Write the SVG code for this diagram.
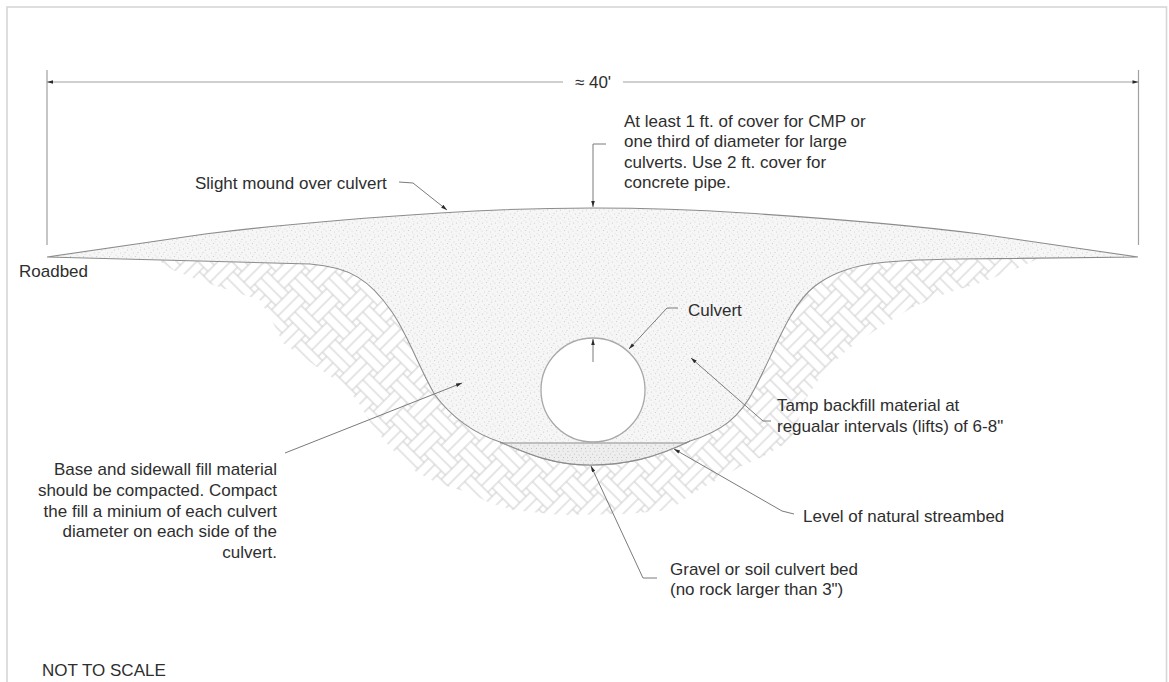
<svg xmlns="http://www.w3.org/2000/svg" width="1169" height="682" viewBox="0 0 1169 682">
  <style>
    .t { font-family: "Liberation Sans", Arial, sans-serif; font-size: 17px; fill: #2e2e2e; }
    .r { text-anchor: end; }
    .m { text-anchor: middle; }
    .ld { fill: none; stroke: #7a7a7a; stroke-width: 1; }
    .dim { fill: none; stroke: #a0a0a0; stroke-width: 1.2; }
    .edge { stroke: #8c8c8c; stroke-width: 1.1; }
    .hl { stroke: #cbcbcb; stroke-width: 1; fill: none; }
  </style>
  <defs>
    <marker id="arw" viewBox="0 0 10 6" refX="10" refY="3" markerWidth="8" markerHeight="3.6" orient="auto-start-reverse" markerUnits="userSpaceOnUse">
      <path d="M0,0 L10,3 L0,6 Z" fill="#2a2a2a"/>
    </marker>
    <!-- basket-weave earth hatch -->
    <pattern id="earth" patternUnits="userSpaceOnUse" width="48" height="48" patternTransform="rotate(45)">
      <path class="hl" d="M0,3H27M45,3H48M0,12H27M45,12H48M0,21H27M45,21H48
                        M21,27H48M0,27H3M21,36H48M0,36H3M21,45H48M0,45H3
                        M27,0V27M27,45V48M36,0V27M36,45V48M45,0V27M45,45V48
                        M3,21V48M3,0V3M12,21V48M12,0V3M21,21V48M21,0V3"/>
    </pattern>
    <!-- compacted fill stipple -->
    <pattern id="stip" patternUnits="userSpaceOnUse" width="13" height="13">
      <rect width="13" height="13" fill="#f6f6f6"/>
      <g fill="#c9c9c9">
        <circle cx="1.5" cy="2" r="0.6"/><circle cx="6" cy="1" r="0.5"/><circle cx="10.5" cy="3" r="0.6"/>
        <circle cx="3.5" cy="6" r="0.5"/><circle cx="8" cy="5.5" r="0.6"/><circle cx="12" cy="8" r="0.5"/>
        <circle cx="1" cy="10" r="0.5"/><circle cx="5.5" cy="9.5" r="0.6"/><circle cx="9.5" cy="11" r="0.5"/>
        <circle cx="4" cy="12.5" r="0.4"/><circle cx="11" cy="0.5" r="0.4"/><circle cx="7" cy="7.5" r="0.4"/>
      </g>
    </pattern>
    <pattern id="stip2" patternUnits="userSpaceOnUse" width="9" height="9">
      <rect width="9" height="9" fill="#eeeeee"/>
      <g fill="#bcbcbc">
        <circle cx="1" cy="1.5" r="0.6"/><circle cx="5" cy="1" r="0.5"/><circle cx="7.5" cy="4" r="0.6"/>
        <circle cx="3" cy="5" r="0.6"/><circle cx="0.5" cy="7.5" r="0.5"/><circle cx="5.5" cy="7.5" r="0.6"/>
      </g>
    </pattern>
    <clipPath id="earthClip">
      <polygon points="155,258 1040,258 1013,270 980,283 947,293 913,307 880,327 847,350 823,373 805,400 792,440 760,458 740,467 717,480 693,493 670,510 627,514 560,515 513,510 490,503 470,493 437,483 413,470 390,447 373,427 357,400 340,383 307,360 283,343 273,323 260,300 207,283 173,270"/>
    </clipPath>
  </defs>

  <rect width="1169" height="682" fill="#ffffff"/>
  <rect x="7" y="7" width="1159.5" height="700" fill="none" stroke="#d6d6d6" stroke-width="1.6"/>

  <!-- natural ground -->
  <g id="ground">
    <rect x="140" y="250" width="920" height="280" fill="url(#earth)" clip-path="url(#earthClip)"/>
  </g>

  <!-- roadbed, mound and trench backfill -->
  <g id="backfill">
    <path class="edge" fill="url(#stip)" d="M47,257 L205,234 Q300,222 440,213 Q593,203 745,213 Q885,222 980,234 L1138,257
      L960,259 C880,260 845,263 815,286 C790,305 775,350 755,388 C740,418 720,432 690,441
      C655,458 625,465 590,465 C555,465 530,455 500,442 C470,432 450,415 435,395
      C420,370 408,335 392,312 C370,280 350,267 310,264 Z"/>
  </g>

  <!-- culvert bed -->
  <g id="bed">
    <path fill="url(#stip2)" d="M500,443 L687,443 C660,457 625,465 590,465 C555,465 530,455 500,443 Z"/>
    <path class="edge" fill="none" d="M690,441 C655,458 625,465 590,465 C555,465 530,455 500,442"/>
    <line class="edge" x1="500" y1="443" x2="687" y2="443"/>
  </g>

  <!-- culvert pipe -->
  <g id="culvert">
    <circle cx="593" cy="390" r="52" fill="#ffffff" stroke="#a8a8a8" stroke-width="1.3"/>
  </g>

  <!-- dimension -->
  <g id="dimension">
    <line class="dim" x1="47" y1="70" x2="47" y2="245"/>
    <line class="dim" x1="1138.5" y1="70" x2="1138.5" y2="245"/>
    <line class="dim" x1="47" y1="82" x2="563" y2="82" marker-start="url(#arw)"/>
    <line class="dim" x1="623" y1="82" x2="1138.5" y2="82" marker-end="url(#arw)"/>
    <text class="t m" x="593" y="88">≈ 40'</text>
  </g>

  <!-- leaders -->
  <g id="connectors">
    <polyline class="ld" points="399,182 413,183 447,210" marker-end="url(#arw)"/>
    <polyline class="ld" points="606,144 593,144 593,207" marker-end="url(#arw)"/>
    <polyline class="ld" points="678,308 667,308 629,349" marker-end="url(#arw)"/>
    <line class="ld" x1="593" y1="362" x2="593" y2="339" marker-end="url(#arw)"/>
    <polyline class="ld" points="771,421 763,421 691,358" marker-end="url(#arw)"/>
    <line class="ld" x1="285" y1="453" x2="462" y2="383" marker-end="url(#arw)"/>
    <polyline class="ld" points="794,514 782,511 674,449" marker-end="url(#arw)"/>
    <polyline class="ld" points="657,578 643,578 591,466" marker-end="url(#arw)"/>
  </g>

  <g id="label-roadbed"><text class="t" x="19" y="277">Roadbed</text></g>
  <g id="label-mound"><text class="t" x="195" y="189">Slight mound over culvert</text></g>
  <g id="label-cover">
    <text class="t" x="624" y="126.5">At least 1 ft. of cover for CMP or</text>
    <text class="t" x="624" y="147">one third of diameter for large</text>
    <text class="t" x="624" y="167.5">culverts. Use 2 ft. cover for</text>
    <text class="t" x="624" y="188">concrete pipe.</text>
  </g>
  <g id="label-culvert"><text class="t" x="688" y="315.5">Culvert</text></g>
  <g id="label-tamp">
    <text class="t" x="777" y="411">Tamp backfill material at</text>
    <text class="t" x="777" y="431.5">regualar intervals (lifts) of 6-8"</text>
  </g>
  <g id="label-base">
    <text class="t r" x="277" y="475">Base and sidewall fill material</text>
    <text class="t r" x="277" y="495.8">should be compacted. Compact</text>
    <text class="t r" x="277" y="516.6">the fill a minium of each culvert</text>
    <text class="t r" x="277" y="537.4">diameter on each side of the</text>
    <text class="t r" x="277" y="558.2">culvert.</text>
  </g>
  <g id="label-streambed"><text class="t" x="803" y="522">Level of natural streambed</text></g>
  <g id="label-bed">
    <text class="t" x="670" y="574.5">Gravel or soil culvert bed</text>
    <text class="t" x="670" y="595">(no rock larger than 3")</text>
  </g>
  <g id="label-scale"><text class="t" x="42" y="675.5">NOT TO SCALE</text></g>
</svg>
